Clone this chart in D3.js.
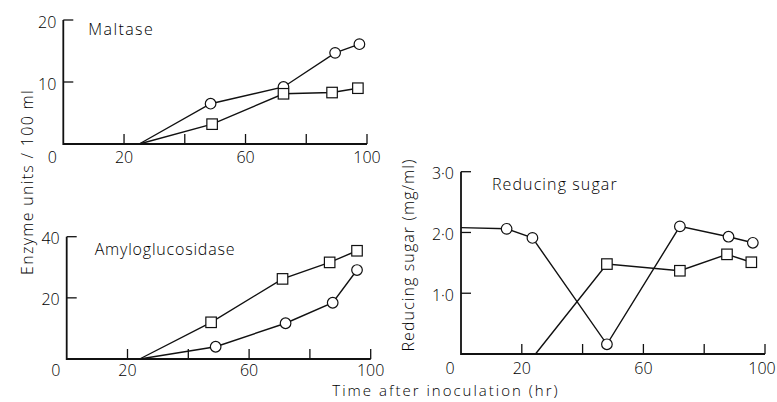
<!DOCTYPE html>
<html>
<head>
<meta charset="utf-8">
<script src="https://cdn.jsdelivr.net/npm/d3@7"></script>
<style>
  body { margin: 0; background: #fff; }
  text { font-family: "Open Sans", "DejaVu Sans", sans-serif; font-weight: 300; fill: #000; }
</style>
</head>
<body>
<svg id="chart" width="777" height="402"></svg>
<script>
// Data. First point of each series is drawn without a marker.
var maltaseCircleTime = [25, 48.5, 72.5, 89.5, 97.5];
var maltaseCircle = [0, 6.5, 9.2, 14.7, 16.1];
var maltaseSquareTime = [25, 49, 72.5, 88.5, 97];
var maltaseSquare = [0, 3.2, 8.1, 8.3, 9.0];

var amyloCircleTime = [24, 49, 72, 87.5, 95.5];
var amyloCircle = [0, 4.0, 11.7, 18.4, 29.1];
var amyloSquareTime = [24, 47.5, 71, 86.5, 95.5];
var amyloSquare = [0, 12.0, 26.2, 31.6, 35.4];

var sugarCircleTime = [0, 15, 23.5, 48, 72, 88, 96];
var sugarCircle = [2.08, 2.06, 1.91, 0.16, 2.1, 1.93, 1.83];
var sugarSquareTime = [24.5, 48, 72, 87.5, 95.5];
var sugarSquare = [0, 1.48, 1.37, 1.64, 1.51];

var xTicks = [20, 40, 60, 80, 100];
var xTickLabels = ['0', '20', '60', '100'];
var maltaseTicks = [10, 20];
var maltaseTickLabels = ['0', '10', '20'];
var amyloTicks = [20, 40];
var amyloTickLabels = ['0', '20', '40'];
var sugarTicks = [1, 2, 3];
var sugarTickLabels = ['0', '1·0', '2·0', '3·0'];

// Layout
var TICK_LEN = 10;
var MARKER_R = 5.3;
var SQUARE = 10.5;
var FONT = 16;

var svg = d3.select('#chart');

var zip = function(ts, vs) {
  return ts.map(function(t, i) { return {t: t, v: vs[i]}; });
};

var panels = [
  {
    title: 'Maltase', x0: 63.3, x1: 367, y0: 144, y1: 20, yMax: 20,
    ticks: maltaseTicks, tickLabels: maltaseTickLabels, labelDy: 13,
    circles: zip(maltaseCircleTime, maltaseCircle),
    squares: zip(maltaseSquareTime, maltaseSquare),
    titleDx: 25, titleDy: 9, titleSpacing: 1.4
  },
  {
    title: 'Amyloglucosidase', x0: 66.7, x1: 370.7, y0: 359, y1: 236.7, yMax: 40,
    ticks: amyloTicks, tickLabels: amyloTickLabels, labelDy: 11,
    circles: zip(amyloCircleTime, amyloCircle),
    squares: zip(amyloSquareTime, amyloSquare),
    titleDx: 28, titleDy: 13, titleSpacing: 0.8
  },
  {
    title: 'Reducing sugar', x0: 461, x1: 765, y0: 354, y1: 171.7, yMax: 3,
    ticks: sugarTicks, tickLabels: sugarTickLabels, labelDy: 14,
    circles: zip(sugarCircleTime, sugarCircle),
    squares: zip(sugarSquareTime, sugarSquare),
    titleDx: 31, titleDy: 13, titleSpacing: 1.1
  }
];

var drawPanel = function(p) {
  var x = d3.scaleLinear().domain([0, 100]).range([p.x0, p.x1]);
  var y = d3.scaleLinear().domain([0, p.yMax]).range([p.y0, p.y1]);
  var g = svg.append('g');

  // axes lines
  g.append('path')
    .attr('d', 'M' + x(0) + ',' + y(p.yMax) + 'V' + y(0) + 'H' + x(100))
    .attr('fill', 'none').attr('stroke', '#111').attr('stroke-width', 1.8);

  // x ticks (pointing up, inside)
  g.selectAll('.xt').data(xTicks).enter().append('line')
    .attr('x1', function(d) { return x(d); })
    .attr('x2', function(d) { return x(d); })
    .attr('y1', y(0)).attr('y2', y(0) - TICK_LEN)
    .attr('stroke', '#111').attr('stroke-width', 1.3);

  g.selectAll('.xl').data(xTickLabels).enter().append('text')
    .attr('x', function(d) {
      if (+d === 0) return x(0) - 11;
      if (+d === 100) return Math.min(x(100), 762);
      return x(+d);
    })
    .attr('y', y(0) + p.labelDy)
    .attr('dy', '0.35em')
    .attr('text-anchor', 'middle')
    .attr('font-size', FONT)
    .text(function(d) { return d; });

  // y ticks (pointing right, inside)
  g.selectAll('.yt').data(p.ticks).enter().append('line')
    .attr('x1', x(0)).attr('x2', x(0) + TICK_LEN)
    .attr('y1', function(d) { return y(d); })
    .attr('y2', function(d) { return y(d); })
    .attr('stroke', '#111').attr('stroke-width', 1.3);

  g.selectAll('.yl').data(p.tickLabels.slice(1)).enter().append('text')
    .attr('x', x(0) - 7)
    .attr('y', function(d) { return y(parseFloat(d.replace('·', '.'))) + 2; })
    .attr('dy', '0.35em')
    .attr('text-anchor', 'end')
    .attr('font-size', FONT)
    .text(function(d) { return d; });

  // title
  g.append('text')
    .attr('x', x(0) + p.titleDx)
    .attr('y', y(p.yMax) + p.titleDy)
    .attr('dy', '0.35em')
    .attr('font-size', FONT)
    .attr('letter-spacing', p.titleSpacing)
    .text(p.title);

  var line = d3.line()
    .x(function(d) { return x(d.t); })
    .y(function(d) { return y(d.v); });

  [p.circles, p.squares].forEach(function(series) {
    g.append('path')
      .attr('d', line(series))
      .attr('fill', 'none').attr('stroke', '#111').attr('stroke-width', 1.4);
  });

  g.selectAll('.c').data(p.circles.slice(1)).enter().append('circle')
    .attr('cx', function(d) { return x(d.t); })
    .attr('cy', function(d) { return y(d.v); })
    .attr('r', MARKER_R)
    .attr('fill', '#fff').attr('stroke', '#111').attr('stroke-width', 1.2);

  g.selectAll('.s').data(p.squares.slice(1)).enter().append('rect')
    .attr('x', function(d) { return x(d.t) - SQUARE / 2; })
    .attr('y', function(d) { return y(d.v) - SQUARE / 2; })
    .attr('width', SQUARE).attr('height', SQUARE)
    .attr('fill', '#fff').attr('stroke', '#111').attr('stroke-width', 1.2);
};

panels.forEach(drawPanel);

// axis titles
svg.append('text')
  .attr('transform', 'translate(27,182) rotate(-90)')
  .attr('text-anchor', 'middle').attr('dy', '0.35em')
  .attr('font-size', FONT)
  .attr('letter-spacing', 1.3)
  .text('Enzyme units / 100 ml');

svg.append('text')
  .attr('transform', 'translate(408,255) rotate(-90)')
  .attr('text-anchor', 'middle').attr('dy', '0.35em')
  .attr('font-size', FONT)
  .attr('letter-spacing', 1.1)
  .text('Reducing sugar (mg/ml)');

svg.append('text')
  .attr('x', 446).attr('y', 391)
  .attr('text-anchor', 'middle').attr('dy', '0.35em')
  .attr('font-size', 15)
  .attr('letter-spacing', 2)
  .text('Time after inoculation (hr)');
</script>
</body>
</html>
